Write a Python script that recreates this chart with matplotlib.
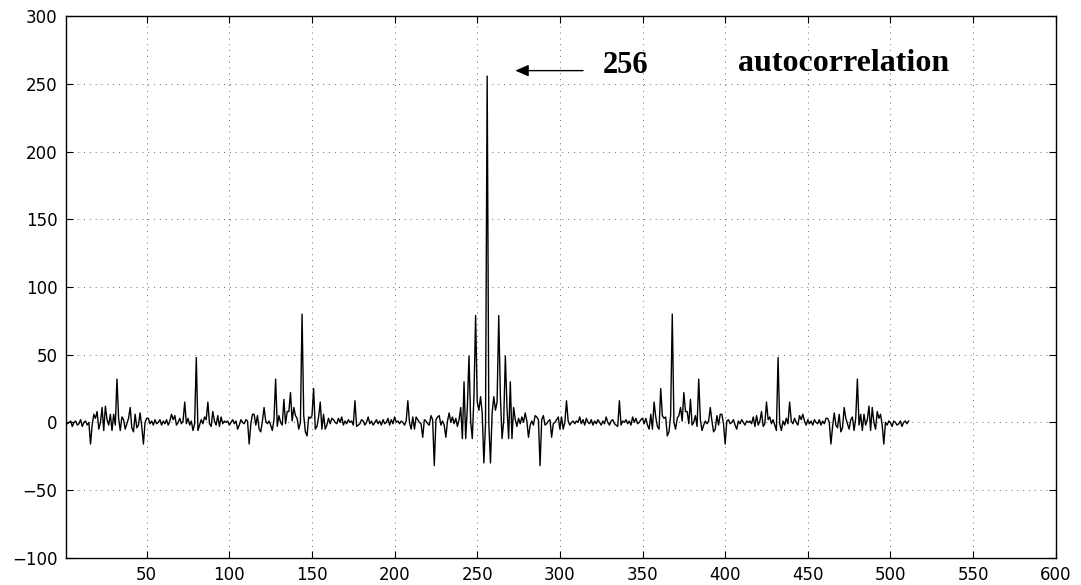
import numpy as np
import matplotlib
matplotlib.use("Agg")
import matplotlib.pyplot as plt

# autocorrelation values, x = 1..511
left_lags = [
    1, -1, 0, 1, -3, 0, 1, -2, -1, 2, -3, 0, 1, -2, 0, -16,
    -2, 6, 3, 8, -5, 0, 11, -6, 12, 2, -2, 6, -6, 6, -2, 32,
    3, -6, 4, 2, -5, -1, 3, 11, -4, -7, 6, -4, -2, 7, -3, -16,
    0, 3, 3, -1, 1, -2, 2, -1, 0, 2, -2, 1, -1, 2, -2, 1,
    6, 2, 5, -2, 0, 3, -1, 1, 15, -1, 3, -2, 1, -6, -1, 48,
    -6, -2, 2, -1, 4, 2, 15, -1, -3, 8, 1, -2, 5, -3, 4, -1,
    1, 0, 1, -2, 0, 2, -1, 1, -5, -2, 2, 0, -1, 2, 1, -16,
    -1, 6, 6, -2, 5, -5, -7, 1, 11, 1, -1, 1, -2, -6, 2, 32,
    -3, 5, 0, -2, 17, -1, 8, 8, 22, 1, 11, 5, 3, -5, 0, 80,
    5, -7, -10, 4, 3, 5, 25, -5, -3, 4, 15, -5, 6, -5, -2, 3,
    -1, 3, 2, 0, -1, 3, 0, 4, -2, 1, -1, 2, 0, 1, -2, 16,
    -3, -2, -1, 2, 1, -2, 0, 4, -1, 1, -2, 0, 2, -1, 1, -2,
    2, -1, 0, 3, -2, 2, -1, 4, 0, 1, -1, 1, 0, -2, 1, 16,
    0, -5, 4, -5, 4, 2, 0, -1, -11, 2, 1, -1, -2, 5, 2, -32,
    2, 4, 5, -2, 1, -2, -11, 1, 7, 0, 4, -1, 3, -3, 2, 11,
    -12, 30, -12, 11, 49, 1, -12, 19, 79, 15, 9, 19, 7, -30, -1,
]
peak_value = [256]
right_lags = [
    -1, -30, 7, 19, 9, 15, 79, 19, -12, 1, 49, 11, -12, 30, -12,
    11, 2, -3, 3, -1, 4, 0, 7, 1, -11, -2, 1, -2, 5, 4, 2,
    -32, 2, 5, -2, -1, 1, 2, -11, -1, 0, 2, 4, -5, 4, -5, 0,
    16, 1, -2, 0, 1, -1, 1, 0, 4, -1, 2, -2, 3, 0, -1, 2,
    -2, 1, -1, 2, 0, -2, 1, -1, 4, 0, -2, 1, 2, -1, -2, -3,
    16, -2, 1, 0, 2, -1, 1, -2, 4, 0, 3, -1, 0, 2, 3, -1,
    3, -2, -5, 6, -5, 15, 4, -3, -5, 25, 5, 3, 4, -10, -7, 5,
    80, 0, -5, 3, 5, 11, 1, 22, 8, 8, -1, 17, -2, 0, 5, -3,
    32, 2, -6, -2, 1, -1, 1, 11, 1, -7, -5, 5, -2, 6, 6, -1,
    -16, 1, 2, -1, 0, 2, -2, -5, 1, -1, 2, 0, -2, 1, 0, 1,
    -1, 4, -3, 5, -2, 1, 8, -3, -1, 15, 2, 4, -1, 2, -2, -6,
    48, -1, -6, 1, -2, 3, -1, 15, 1, -1, 3, 0, -2, 5, 2, 6,
    1, -2, 2, -1, 1, -2, 2, 0, -1, 2, -2, 1, -1, 3, 3, 0,
    -16, -3, 7, -2, -4, 6, -7, -4, 11, 3, -1, -5, 2, 4, -6, 3,
    32, -2, 6, -6, 6, -2, 2, 12, -6, 11, 0, -5, 8, 3, 6, -2,
    -16, 0, -2, 1, 0, -3, 1, 0, -2, -1, 1, -3, 0, 1, -1, 1,
]

x_ticks = [50, 100, 150, 200, 250, 300, 350, 400, 450, 500, 550, 600]
y_ticks = [-100, -50, 0, 50, 100, 150, 200, 250, 300]

values = np.array(left_lags + peak_value + right_lags)
x = np.arange(1, len(values) + 1)

fig = plt.figure(figsize=(10.81, 5.85), dpi=100)
ax = fig.add_axes([0.0608, 0.0467, 0.9158, 0.9251])

ax.plot(x, values, color='black', linewidth=1.0)

ax.set_xlim(1, 600)
ax.set_ylim(-100, 300)
ax.set_xticks(x_ticks)
ax.set_yticks(y_ticks)

# matlab-ish dotted grid
ax.grid(True, color='0.4', linestyle=(0, (1, 5)), linewidth=0.7)
ax.tick_params(direction='in', length=5, width=0.8, top=True, right=True,
               labelsize=12, pad=6)
for lbl in ax.get_xticklabels() + ax.get_yticklabels():
    lbl.set_family('DejaVu Sans')
for s in ax.spines.values():
    s.set_linewidth(1.0)

# annotation
ax.annotate('', xy=(273, 260), xytext=(314, 260),
            arrowprops=dict(arrowstyle='-|>,head_length=0.8,head_width=0.35',
                            color='black', lw=1.0, shrinkA=0, shrinkB=0))
ax.text(326, 258, '256', fontsize=22, fontweight='bold',
        family='Liberation Serif', ha='left', va='baseline')
ax.text(408, 260, 'autocorrelation', fontsize=23, fontweight='bold',
        family='Liberation Serif', ha='left', va='baseline')

fig.savefig('out.png', dpi=100)
